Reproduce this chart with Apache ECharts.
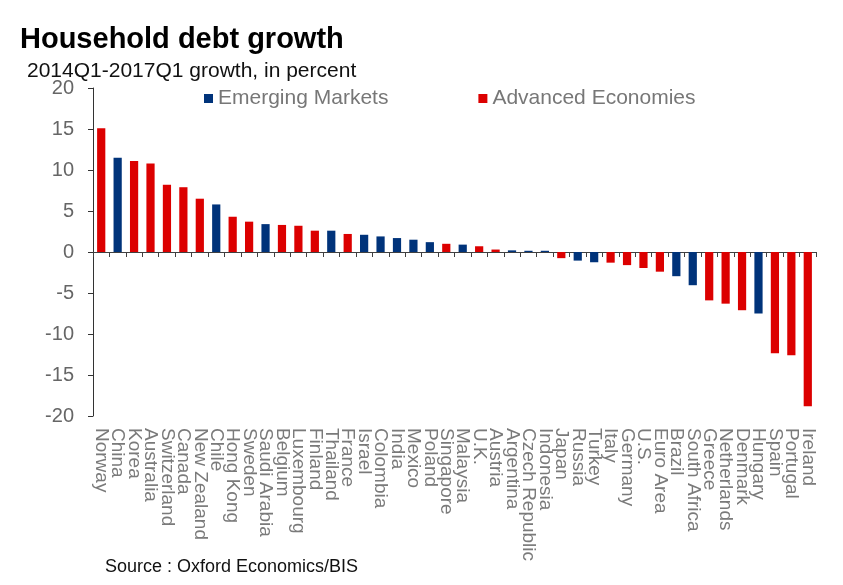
<!DOCTYPE html>
<html>
<head>
<meta charset="utf-8">
<script src="https://cdn.jsdelivr.net/npm/echarts@6/dist/echarts.min.js"></script>
<style>
html,body{margin:0;padding:0;background:#fff;}
#chart{width:843px;height:585px;}
</style>
</head>
<body>
<div id="chart"></div>
<script>
const categories = ["Norway","China","Korea","Australia","Switzerland","Canada","New Zealand","Chile","Hong Kong","Sweden","Saudi Arabia","Belgium","Luxembourg","Finland","Thailand","France","Israel","Colombia","India","Mexico","Poland","Singapore","Malaysia","U.K.","Austria","Argentina","Czech Republic","Indonesia","Japan","Russia","Turkey","Italy","Germany","U.S.","Euro Area","Brazil","South Africa","Greece","Netherlands","Denmark","Hungary","Spain","Portugal","Ireland"];
const values = [15.1,11.5,11.1,10.8,8.2,7.9,6.5,5.8,4.3,3.7,3.4,3.3,3.2,2.6,2.6,2.2,2.1,1.9,1.7,1.5,1.2,1.0,0.9,0.7,0.3,0.2,0.15,0.15,-0.75,-1.05,-1.25,-1.3,-1.6,-1.95,-2.4,-2.95,-4.05,-5.9,-6.3,-7.1,-7.5,-12.35,-12.6,-18.8];
const groups = ["A","E","A","A","A","A","A","E","A","A","E","A","A","A","E","A","E","E","E","E","E","A","E","A","A","E","E","E","A","E","E","A","A","A","A","E","E","A","A","A","E","A","A","A"];
const yTicks = {min:-20, max:20, interval:5};

const FONT = '"Liberation Sans", Arial, Helvetica, sans-serif';
const RED = '#DC0000';
const BLUE = '#00337A';

const emData = values.map((v,i)=> groups[i]==='E' ? v : '-');
const aeData = values.map((v,i)=> groups[i]==='A' ? v : '-');

const chart = echarts.init(document.getElementById('chart'));
chart.setOption({
  animation:false,
  backgroundColor:'#fff',
  title:[
    {text:'Household debt growth', left:15, top:20, textStyle:{fontFamily:FONT,fontSize:29,fontWeight:'bold',color:'#000'}},
    {text:'2014Q1-2017Q1 growth, in percent', left:22, top:56, textStyle:{fontFamily:FONT,fontSize:21,fontWeight:'normal',color:'#111'}},
    {text:'Source : Oxford Economics/BIS', left:100, top:553, textStyle:{fontFamily:FONT,fontSize:18,fontWeight:'normal',color:'#111'}}
  ],
  legend:{
    left:199, top:83, itemWidth:9, itemHeight:9, itemGap:90,
    icon:'rect',
    textStyle:{fontFamily:FONT,fontSize:21,color:'#777'},
    data:['Emerging Markets','Advanced Economies']
  },
  grid:{left:93, right:27, top:88, bottom:169, containLabel:false},
  xAxis:[
    {type:'category', data:categories, boundaryGap:true,
     axisLine:{onZero:true, lineStyle:{color:'#404040', width:1}},
     axisTick:{show:true, length:5, alignWithLabel:false, interval:0, lineStyle:{color:'#404040'}},
     axisLabel:{show:false}},
    {type:'category', data:categories, boundaryGap:true, position:'bottom',
     axisLine:{show:false, onZero:false}, axisTick:{show:false},
     axisLabel:{show:true, interval:0, rotate:-90, margin:12, fontFamily:FONT, fontSize:19, color:'#7a7a7a'}}
  ],
  yAxis:{type:'value', min:yTicks.min, max:yTicks.max, interval:yTicks.interval,
    axisLine:{show:true, lineStyle:{color:'#333', width:1}},
    axisTick:{show:true, length:5, lineStyle:{color:'#333'}},
    splitLine:{show:false},
    axisLabel:{margin:19, fontFamily:FONT, fontSize:20, color:'#666'}},
  series:[
    {name:'Emerging Markets', type:'bar', stack:'s', data:emData, barWidth:'50%', itemStyle:{color:BLUE}},
    {name:'Advanced Economies', type:'bar', stack:'s', data:aeData, barWidth:'50%', itemStyle:{color:RED}}
  ]
});
</script>
</body>
</html>
